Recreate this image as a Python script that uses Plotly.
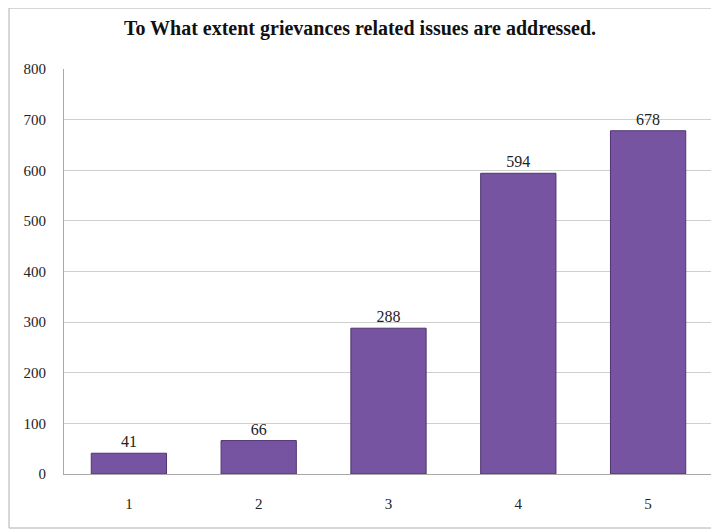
import plotly.graph_objects as go

categories = ["1", "2", "3", "4", "5"]
values = [41, 66, 288, 594, 678]
y_ticks = [0, 100, 200, 300, 400, 500, 600, 700, 800]

# page body has an 8px offset; size figure to fit in the window
W, H = 711, 522
L, R, T, B = 56, 6, 61, 56
pw, ph = W - L - R, H - T - B

fig = go.Figure()
fig.add_trace(go.Bar(
    x=categories, y=values,
    text=[str(v) for v in values], textposition="outside",
    textfont=dict(family="Liberation Serif", size=16, color="#222"),
    marker=dict(color="#7654a2", line=dict(color="#4e3572", width=1)),
    cliponaxis=False,
))

fig.update_layout(
    width=W, height=H,
    margin=dict(l=L, r=R, t=T, b=B),
    paper_bgcolor="white", plot_bgcolor="white",
    bargap=0.42,
    showlegend=False,
    title=dict(text="<b>To What extent grievances related issues are addressed.</b>",
               x=(360 - 8) / W, xanchor="center", y=1 - 20 / H, yanchor="middle",
               font=dict(family="Liberation Serif", size=20, color="#111")),
    font=dict(family="Liberation Serif", size=15, color="#222"),
    xaxis=dict(showline=True, linecolor="#a8a8a8", linewidth=1, ticks="",
               showgrid=False, tickfont=dict(size=15), ticklabelstandoff=16),
    yaxis=dict(range=[0, 800], tickvals=y_ticks, showgrid=True, gridcolor="#cfcfcf",
               gridwidth=1, showline=True, linecolor="#a8a8a8", linewidth=1,
               ticks="", tickfont=dict(size=15), ticklabelstandoff=14, zeroline=False),
    shapes=[dict(type="rect", xref="paper", yref="paper",
                 x0=(1 - L) / pw, x1=(W - 1 - L) / pw,
                 y0=-(B - 2) / ph, y1=(H - B) / ph,
                 line=dict(color="#b0b0b0", width=1), fillcolor="rgba(0,0,0,0)",
                 layer="below")],
)

fig.write_html("out.html")
